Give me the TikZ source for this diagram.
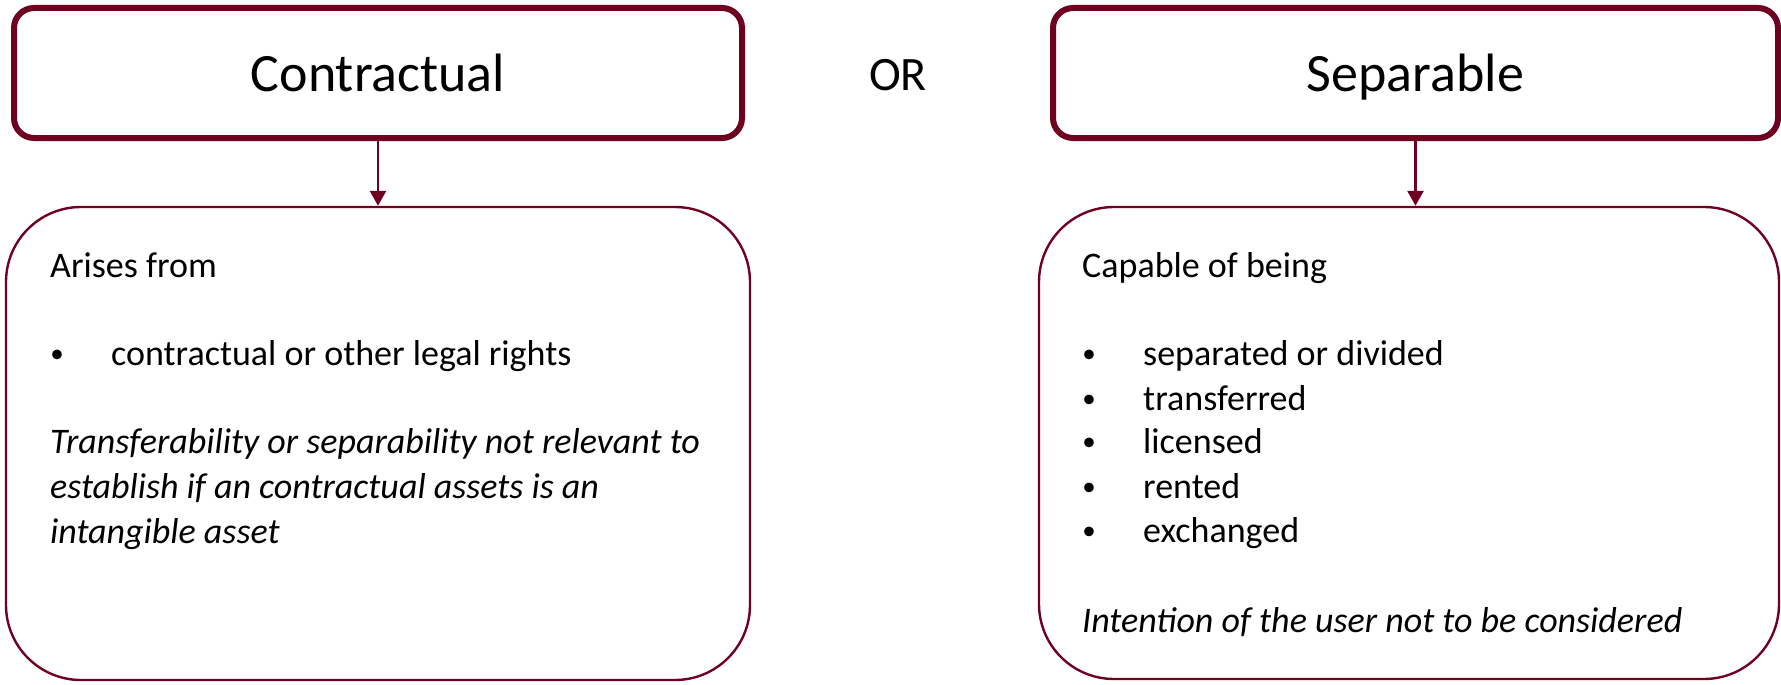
\documentclass[tikz,border=0pt]{standalone}
\usepackage{fontspec}
\setmainfont{Carlito}
\usetikzlibrary{arrows.meta}
\definecolor{maroon}{RGB}{112,0,32}
\begin{document}
\begin{tikzpicture}[x=1pt,y=-1pt,
  headbox/.style={draw=maroon, line width=6pt, rounded corners=20pt,
    minimum height=130pt, inner sep=0pt,
    font=\fontsize{54}{60}\selectfont, text height=38pt, text depth=0pt},
  bodybox/.style={draw=maroon, line width=2.4pt, rounded corners=75pt, inner sep=0pt},
  body/.style={font=\fontsize{36}{44}\selectfont, anchor=base west, inner sep=0pt},
  dot/.style={font=\fontsize{27}{30}\selectfont, anchor=base, inner sep=0pt, yshift=3pt},
  note/.style={body, font=\fontsize{36}{44}\selectfont\itshape},
  link/.style={draw=maroon, line width=2.7pt, -{Triangle[width=16pt,length=15pt]}}]
\useasboundingbox (0,0) rectangle (1781,685);

% headings
\node[headbox, minimum width=728pt] (contract) at (378,73) {Contractual};
\node[headbox, minimum width=725pt] (separable) at (1415.5,73) {Separable};
\node[font=\fontsize{48}{50}\selectfont, anchor=base, inner sep=0pt] (or) at (898,90) {OR};

% detail boxes
\node[bodybox, minimum width=744pt, minimum height=473pt] (cbox) at (378,443.5) {};
\node[bodybox, minimum width=740pt, minimum height=472pt] (sbox) at (1409,443) {};

% connectors
\draw[link] (contract.south) -- (contract.south |- cbox.north);
\draw[link] (separable.south) -- (separable.south |- sbox.north);

% contractual details
\node[body] (arises) at (50,277) {Arises from};
\node[dot] (cdot) at (57,365) {•};
\node[body] (rights) at (111,365) {contractual or other legal rights};
\node[note] (cn1) at (50,453) {Transferability or separability not relevant to};
\node[note] (cn2) at (50,498) {establish if an contractual assets is an};
\node[note] (cn3) at (50,543) {intangible asset};

% separable details
\node[body] (capable) at (1082,277) {Capable of being};
\node[dot] (sdot1) at (1089,365) {•};
\node[dot] (sdot2) at (1089,410) {•};
\node[dot] (sdot3) at (1089,453) {•};
\node[dot] (sdot4) at (1089,498) {•};
\node[dot] (sdot5) at (1089,542) {•};
\node[body] (s1) at (1143,365) {separated or divided};
\node[body] (s2) at (1143,410) {transferred};
\node[body] (s3) at (1143,453) {licensed};
\node[body] (s4) at (1143,498) {rented};
\node[body] (s5) at (1143,542) {exchanged};
\node[note] (sn) at (1082,632) {Intention of the user not to be considered};
\end{tikzpicture}
\end{document}
